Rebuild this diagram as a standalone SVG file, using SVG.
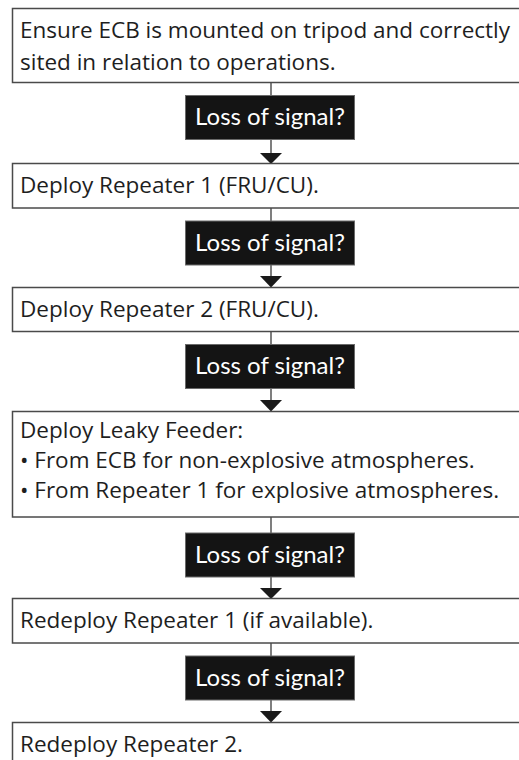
<svg xmlns="http://www.w3.org/2000/svg" width="519" height="760" viewBox="0 0 519 760">
<style>
.box{fill:#fff;stroke:#4a4a4a;stroke-width:1.5}
.lbl{fill:#141414;stroke:#6a6a6a;stroke-width:1}
.t{font-family:"Open Sans",Lato,"Liberation Sans",sans-serif;font-size:22.5px;fill:#1e1e1e}
.lt{font-family:Lato,"Open Sans","Liberation Sans",sans-serif;font-size:24px;fill:#fff;text-anchor:middle}
.ln{stroke:#3a3a3a;stroke-width:1.3;fill:none}
.ah{fill:#1a1a1a}
</style>
<rect width="519" height="760" fill="#fff"/>
<g id="connectors">
<line class="ln" x1="271" y1="82" x2="271" y2="95"/>
<line class="ln" x1="271" y1="140" x2="271" y2="154"/>
<polygon class="ah" points="260,153 282,153 271,164"/>
<line class="ln" x1="271" y1="208" x2="271" y2="221"/>
<line class="ln" x1="271" y1="265" x2="271" y2="277"/>
<polygon class="ah" points="260,276 282,276 271,287.5"/>
<line class="ln" x1="271" y1="332" x2="271" y2="344"/>
<line class="ln" x1="271" y1="389" x2="271" y2="401"/>
<polygon class="ah" points="260,400 282,400 271,411.5"/>
<line class="ln" x1="271" y1="517" x2="271" y2="533"/>
<line class="ln" x1="271" y1="577" x2="271" y2="589"/>
<polygon class="ah" points="260,588 282,588 271,599"/>
<line class="ln" x1="271" y1="643" x2="271" y2="656"/>
<line class="ln" x1="271" y1="700" x2="271" y2="712"/>
<polygon class="ah" points="260,711 282,711 271,722.5"/>
</g>
<g id="n1">
<rect class="box" x="12.5" y="8.5" width="520" height="74"/>
<text class="t" x="20" y="38">Ensure ECB is mounted on tripod and correctly</text>
<text class="t" x="20" y="70">sited in relation to operations.</text>
</g>
<g id="q1">
<rect class="lbl" x="185.5" y="95.5" width="169" height="44"/>
<text class="lt" x="270" y="125">Loss of signal?</text>
</g>
<g id="n2">
<rect class="box" x="12.5" y="163.5" width="520" height="44.5"/>
<text class="t" x="20" y="193">Deploy Repeater 1 (FRU/CU).</text>
</g>
<g id="q2">
<rect class="lbl" x="185.5" y="221" width="169" height="44"/>
<text class="lt" x="270" y="250.5">Loss of signal?</text>
</g>
<g id="n3">
<rect class="box" x="12.5" y="287.5" width="520" height="44"/>
<text class="t" x="20" y="317">Deploy Repeater 2 (FRU/CU).</text>
</g>
<g id="q3">
<rect class="lbl" x="185.5" y="344.5" width="169" height="44"/>
<text class="lt" x="270" y="374">Loss of signal?</text>
</g>
<g id="n4">
<rect class="box" x="12.5" y="411.5" width="520" height="105.5"/>
<text class="t" x="20" y="438">Deploy Leaky Feeder:</text>
<text class="t" x="20" y="468">• From ECB for non-explosive atmospheres.</text>
<text class="t" x="20" y="498">• From Repeater 1 for explosive atmospheres.</text>
</g>
<g id="q4">
<rect class="lbl" x="185.5" y="533" width="169" height="44"/>
<text class="lt" x="270" y="562.5">Loss of signal?</text>
</g>
<g id="n5">
<rect class="box" x="12.5" y="598.5" width="520" height="44.5"/>
<text class="t" x="20" y="628">Redeploy Repeater 1 (if available).</text>
</g>
<g id="q5">
<rect class="lbl" x="185.5" y="656" width="169" height="44"/>
<text class="lt" x="270" y="685.5">Loss of signal?</text>
</g>
<g id="n6">
<rect class="box" x="12.5" y="722.5" width="520" height="60"/>
<text class="t" x="20" y="752">Redeploy Repeater 2.</text>
</g>
</svg>
